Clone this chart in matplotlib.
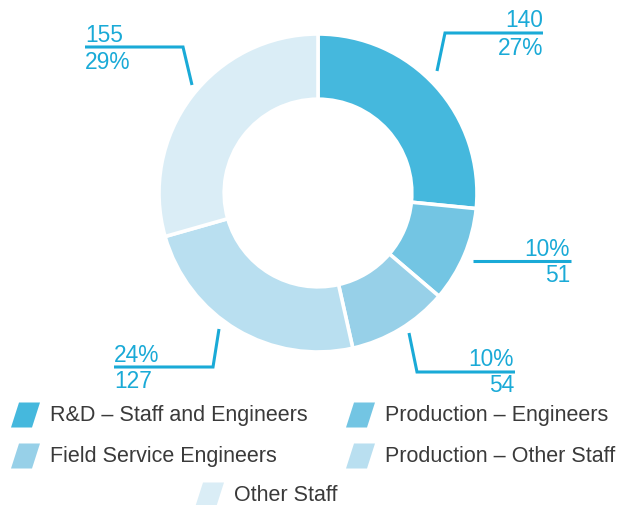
import matplotlib
matplotlib.use("Agg")
import matplotlib.pyplot as plt
from matplotlib.patches import Polygon

categories = [
    "R&D – Staff and Engineers",
    "Production – Engineers",
    "Field Service Engineers",
    "Production – Other Staff",
    "Other Staff",
]
counts = [140, 51, 54, 127, 155]
percent_labels = ["27%", "10%", "10%", "24%", "29%"]
colors = ["#45B8DD", "#73C5E3", "#97D0E8", "#B9DFF0", "#DAEDF6"]

W, H = 635, 506
fig = plt.figure(figsize=(W / 100, H / 100), dpi=100)
ax = fig.add_axes([0, 0, 1, 1])

def Y(y):
    return H - y

cx, cy, R = 318, 194, 159
ax.pie(counts, colors=colors, startangle=90, counterclock=False,
       radius=R, center=(cx, Y(cy)), frame=True,
       wedgeprops=dict(width=R * 0.41, edgecolor="white", linewidth=2.6))
ax.set_xlim(0, W)
ax.set_ylim(0, H)
ax.set_aspect("equal")
ax.axis("off")

family = ["Liberation Sans", "DejaVu Sans"]
accent = "#1AAAD7"
font = dict(family=family, color=accent, fontsize=16.4)

# leader lines: polyline points, upper text, lower text, anchor x, alignment, text y centres
callouts = [
    ([(437, 72), (445, 34), (543, 34)], str(counts[0]), percent_labels[0], 543, "right", 20, 48),
    ([(473, 262), (571, 262)], percent_labels[1], str(counts[1]), 570, "right", 250, 275),
    ([(409, 334), (417, 373), (515, 373)], percent_labels[2], str(counts[2]), 514, "right", 360, 385),
    ([(219, 330), (213, 368), (114, 368)], percent_labels[3], str(counts[3]), 114, "left", 356, 381),
    ([(192, 86), (183, 48), (85, 48)], str(counts[4]), percent_labels[4], 85, "left", 35, 62),
]
for pts, top, bottom, tx, ha, ty1, ty2 in callouts:
    xs = [p[0] for p in pts]
    ys = [Y(p[1]) for p in pts]
    ax.plot(xs, ys, color=accent, lw=2.2, solid_joinstyle="miter", solid_capstyle="butt")
    ax.text(tx, Y(ty1), top, ha=ha, va="center", **font)
    ax.text(tx, Y(ty2), bottom, ha=ha, va="center", **font)

# legend with slanted swatches
legend_pos = [(11, 416), (346, 416), (11, 457), (346, 457), (195, 496)]
for (lx, ly), name, col in zip(legend_pos, categories, colors):
    h, w, s = 25, 21, 8
    poly = Polygon([(lx, Y(ly + h / 2)), (lx + w, Y(ly + h / 2)),
                    (lx + w + s, Y(ly - h / 2)), (lx + s, Y(ly - h / 2))],
                   closed=True, facecolor=col, edgecolor="none")
    ax.add_patch(poly)
    ax.text(lx + 39, Y(ly), name, ha="left", va="center",
            family=family, color="#3a3a3a", fontsize=15.5)

fig.savefig("out.png", dpi=100)
